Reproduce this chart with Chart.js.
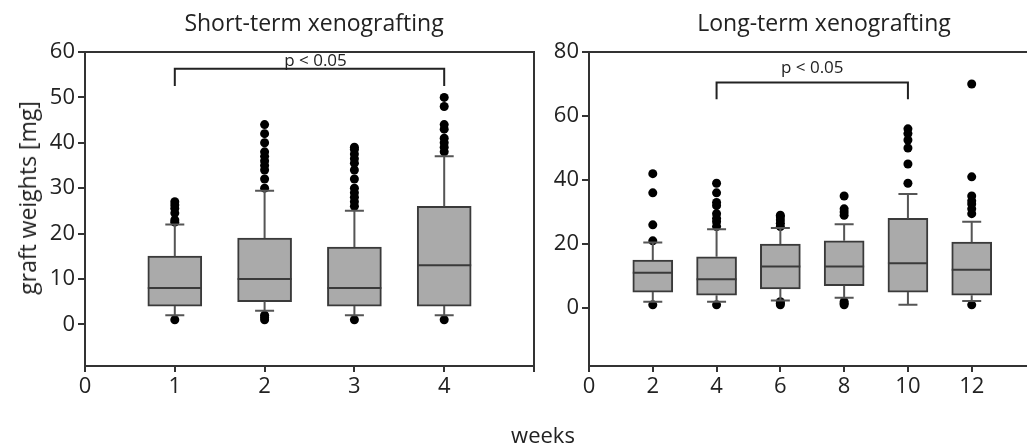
<!DOCTYPE html>
<html>
<head>
<meta charset="utf-8">
<script src="https://cdn.jsdelivr.net/npm/chart.js@4.4.1/dist/chart.umd.min.js"></script>
<style>
  html, body { margin: 0; padding: 0; background: #fff; overflow: hidden; width: 1027px; height: 448px; }
  .wrap { position: absolute; top: 0; }
  .txt { position: absolute; font-family: "Open Sans", sans-serif; color: #222; white-space: nowrap; }
</style>
</head>
<body>
<div class="wrap" style="left:0;width:540px;height:448px;"><canvas id="c1" width="540" height="448"></canvas></div>
<div class="wrap" style="left:540px;width:500px;height:448px;"><canvas id="c2" width="500" height="448"></canvas></div>
<div class="txt" id="t1" style="font-size:23px;left:314px;top:22px;transform:translate(-50%,-50%);">Short-term xenografting</div>
<div class="txt" id="t2" style="font-size:23px;left:824px;top:22px;transform:translate(-50%,-50%);">Long-term xenografting</div>
<div class="txt" style="font-size:23px;left:27px;top:198px;transform:translate(-50%,-50%) rotate(-90deg);">graft weights [mg]</div>
<div class="txt" style="font-size:22px;left:543px;top:434px;transform:translate(-50%,-50%);">weeks</div>
<script>
// ---------- Data: Short-term xenografting ----------
const shortWeeks = [1, 2, 3, 4];
const shortQ1 = [4, 5, 4, 4];
const shortMedian = [8, 10, 8, 13];
const shortQ3 = [15, 19, 17, 26];
const shortWhiskerLow = [2, 3, 2, 2];
const shortWhiskerHigh = [22, 29.4, 25, 37];
const shortOutliers = [
  [1, 22.5, 23, 24.5, 25.5, 26.3, 27],
  [1, 1.5, 2, 30, 32, 34, 35, 36, 37, 38, 40, 42, 44],
  [1, 26, 27, 28, 29, 30, 32, 34, 35.5, 36.5, 37.5, 38.5, 39],
  [1, 38, 39, 40, 41, 43, 44, 48, 50]
];
const shortXTicks = [0, 1, 2, 3, 4, 5];
const shortYTicks = [0, 10, 20, 30, 40, 50, 60];
const shortBracket = { from: 1, to: 4, y: 56.3, drop: 52.5, label: "p < 0.05", labelY: 58 };

// ---------- Data: Long-term xenografting ----------
const longWeeks = [2, 4, 6, 8, 10, 12];
const longQ1 = [5, 4, 6, 7, 5, 4];
const longMedian = [11, 9, 13, 13, 14, 12];
const longQ3 = [15, 16, 20, 21, 28, 20.6];
const longWhiskerLow = [2, 2, 2.4, 3.2, 1, 2.2];
const longWhiskerHigh = [20.5, 24.6, 25, 26.2, 35.6, 27];
const longOutliers = [
  [1, 21, 26, 36, 42],
  [1, 25.5, 27, 28, 29.5, 32, 33, 36, 39],
  [1, 1.5, 2, 25.5, 26.5, 27.5, 28.5, 29],
  [1, 1.5, 2, 29, 30, 31, 35],
  [39, 45, 50, 52.5, 54.5, 56],
  [1, 29.5, 31, 32.5, 33.5, 35, 41, 70]
];
const longXTicks = [0, 2, 4, 6, 8, 10, 12, 14];
const longYTicks = [0, 20, 40, 60, 80];
const longBracket = { from: 4, to: 10, y: 70.5, drop: 65.2, label: "p < 0.05", labelY: 75 };

const FONT = "'Open Sans', sans-serif";
const AXIS = '#333';

// plugin: whiskers, medians, frame, significance bracket
const boxPlugin = {
  id: 'boxExtras',
  afterDatasetsDraw(chart, args, opts) {
    const { ctx, chartArea } = chart;
    const xs = chart.scales.x, ys = chart.scales.y;
    const c = opts.cfg;
    ctx.save();
    // frame (top & right)
    ctx.strokeStyle = AXIS; ctx.lineWidth = 2;
    ctx.beginPath();
    ctx.moveTo(chartArea.left, chartArea.top);
    ctx.lineTo(chartArea.right, chartArea.top);
    ctx.lineTo(chartArea.right, chartArea.bottom);
    ctx.stroke();
    const capHalf = 9.5;
    const boxHalf = c.boxWidth / 2;
    c.x.forEach((xv, i) => {
      const px = xs.getPixelForValue(xv);
      ctx.strokeStyle = '#555'; ctx.lineWidth = 2;
      ctx.beginPath();
      ctx.moveTo(px, ys.getPixelForValue(c.q3[i]));
      ctx.lineTo(px, ys.getPixelForValue(c.hi[i]));
      ctx.moveTo(px - capHalf, ys.getPixelForValue(c.hi[i]));
      ctx.lineTo(px + capHalf, ys.getPixelForValue(c.hi[i]));
      ctx.moveTo(px, ys.getPixelForValue(c.q1[i]));
      ctx.lineTo(px, ys.getPixelForValue(c.lo[i]));
      ctx.moveTo(px - capHalf, ys.getPixelForValue(c.lo[i]));
      ctx.lineTo(px + capHalf, ys.getPixelForValue(c.lo[i]));
      ctx.stroke();
      ctx.strokeStyle = '#3a3a3a'; ctx.lineWidth = 2;
      ctx.beginPath();
      const my = ys.getPixelForValue(c.med[i]);
      ctx.moveTo(px - boxHalf, my);
      ctx.lineTo(px + boxHalf, my);
      ctx.stroke();
    });
    const b = c.bracket;
    const x1 = xs.getPixelForValue(b.from), x2 = xs.getPixelForValue(b.to);
    const yb = ys.getPixelForValue(b.y), yd = ys.getPixelForValue(b.drop);
    ctx.strokeStyle = '#222'; ctx.lineWidth = 2;
    ctx.beginPath();
    ctx.moveTo(x1, yd); ctx.lineTo(x1, yb); ctx.lineTo(x2, yb); ctx.lineTo(x2, yd);
    ctx.stroke();
    ctx.fillStyle = '#222';
    ctx.font = "17px " + FONT;
    ctx.textAlign = 'center'; ctx.textBaseline = 'middle';
    ctx.fillText(b.label, (x1 + x2) / 2 + (c.labelShift || 0), ys.getPixelForValue(b.labelY));
    ctx.restore();
  }
};

function makeChart(id, cfg) {
  const boxes = cfg.x.map((xv, i) => ({ x: xv, y: [cfg.q1[i], cfg.q3[i]] }));
  const outl = [];
  cfg.x.forEach((xv, i) => cfg.out[i].forEach(v => outl.push({ x: xv, y: v })));
  return new Chart(document.getElementById(id), {
    type: 'bar',
    data: {
      datasets: [
        { type: 'bar', data: boxes, backgroundColor: '#aaaaaa', borderColor: '#3a3a3a', borderWidth: 2,
          borderSkipped: false, barThickness: cfg.boxWidth, order: 2 },
        { type: 'scatter', data: outl, backgroundColor: '#000', borderColor: '#000', pointRadius: 4.5,
          borderWidth: 0, showLine: false, order: 1 }
      ]
    },
    options: {
      responsive: false, animation: false,
      layout: { padding: cfg.padding },
      plugins: { legend: { display: false }, tooltip: { enabled: false }, boxExtras: { cfg } },
      scales: {
        x: {
          type: 'linear', min: cfg.xMin, max: cfg.xMax, offset: false,
          afterBuildTicks: s => { s.ticks = cfg.xTicks.map(v => ({ value: v })); },
          afterFit: s => { s.height = 82; },
          ticks: { font: { family: FONT, size: 22 }, color: '#222', padding: 2, maxRotation: 0, autoSkip: false,
                   callback: v => (v <= cfg.xLabelMax ? String(v) : '') },
          grid: { display: true, offset: false, drawOnChartArea: false, drawTicks: true, tickLength: 6, color: AXIS, lineWidth: 2 },
          border: { display: true, color: AXIS, width: 2 }
        },
        y: {
          type: 'linear', min: cfg.yMin, max: cfg.yMax,
          afterBuildTicks: s => { s.ticks = cfg.yTicks.map(v => ({ value: v })); },
          afterFit: s => { s.width = cfg.yWidth; },
          ticks: { font: { family: FONT, size: 22 }, color: '#222', padding: 3 },
          grid: { display: true, offset: false, drawOnChartArea: false, drawTicks: true, tickLength: 7, color: AXIS, lineWidth: 2 },
          border: { display: true, color: AXIS, width: 2 }
        }
      }
    },
    plugins: [boxPlugin]
  });
}

makeChart('c1', {
  x: shortWeeks, q1: shortQ1, med: shortMedian, q3: shortQ3, lo: shortWhiskerLow, hi: shortWhiskerHigh,
  out: shortOutliers, bracket: shortBracket, boxWidth: 54, labelShift: 6,
  xMin: 0, xMax: 5, xTicks: shortXTicks, xLabelMax: 4, yMin: -9.2, yMax: 60, yTicks: shortYTicks,
  yWidth: 85, padding: { top: 52, right: 6, bottom: 0, left: 0 }
});
makeChart('c2', {
  x: longWeeks, q1: longQ1, med: longMedian, q3: longQ3, lo: longWhiskerLow, hi: longWhiskerHigh,
  out: longOutliers, bracket: longBracket, boxWidth: 40, labelShift: 0,
  xMin: 0, xMax: 14, xTicks: longXTicks, xLabelMax: 12, yMin: -18.1, yMax: 80, yTicks: longYTicks,
  yWidth: 49, padding: { top: 52, right: 3, bottom: 0, left: 0 }
});
</script>
</body>
</html>
